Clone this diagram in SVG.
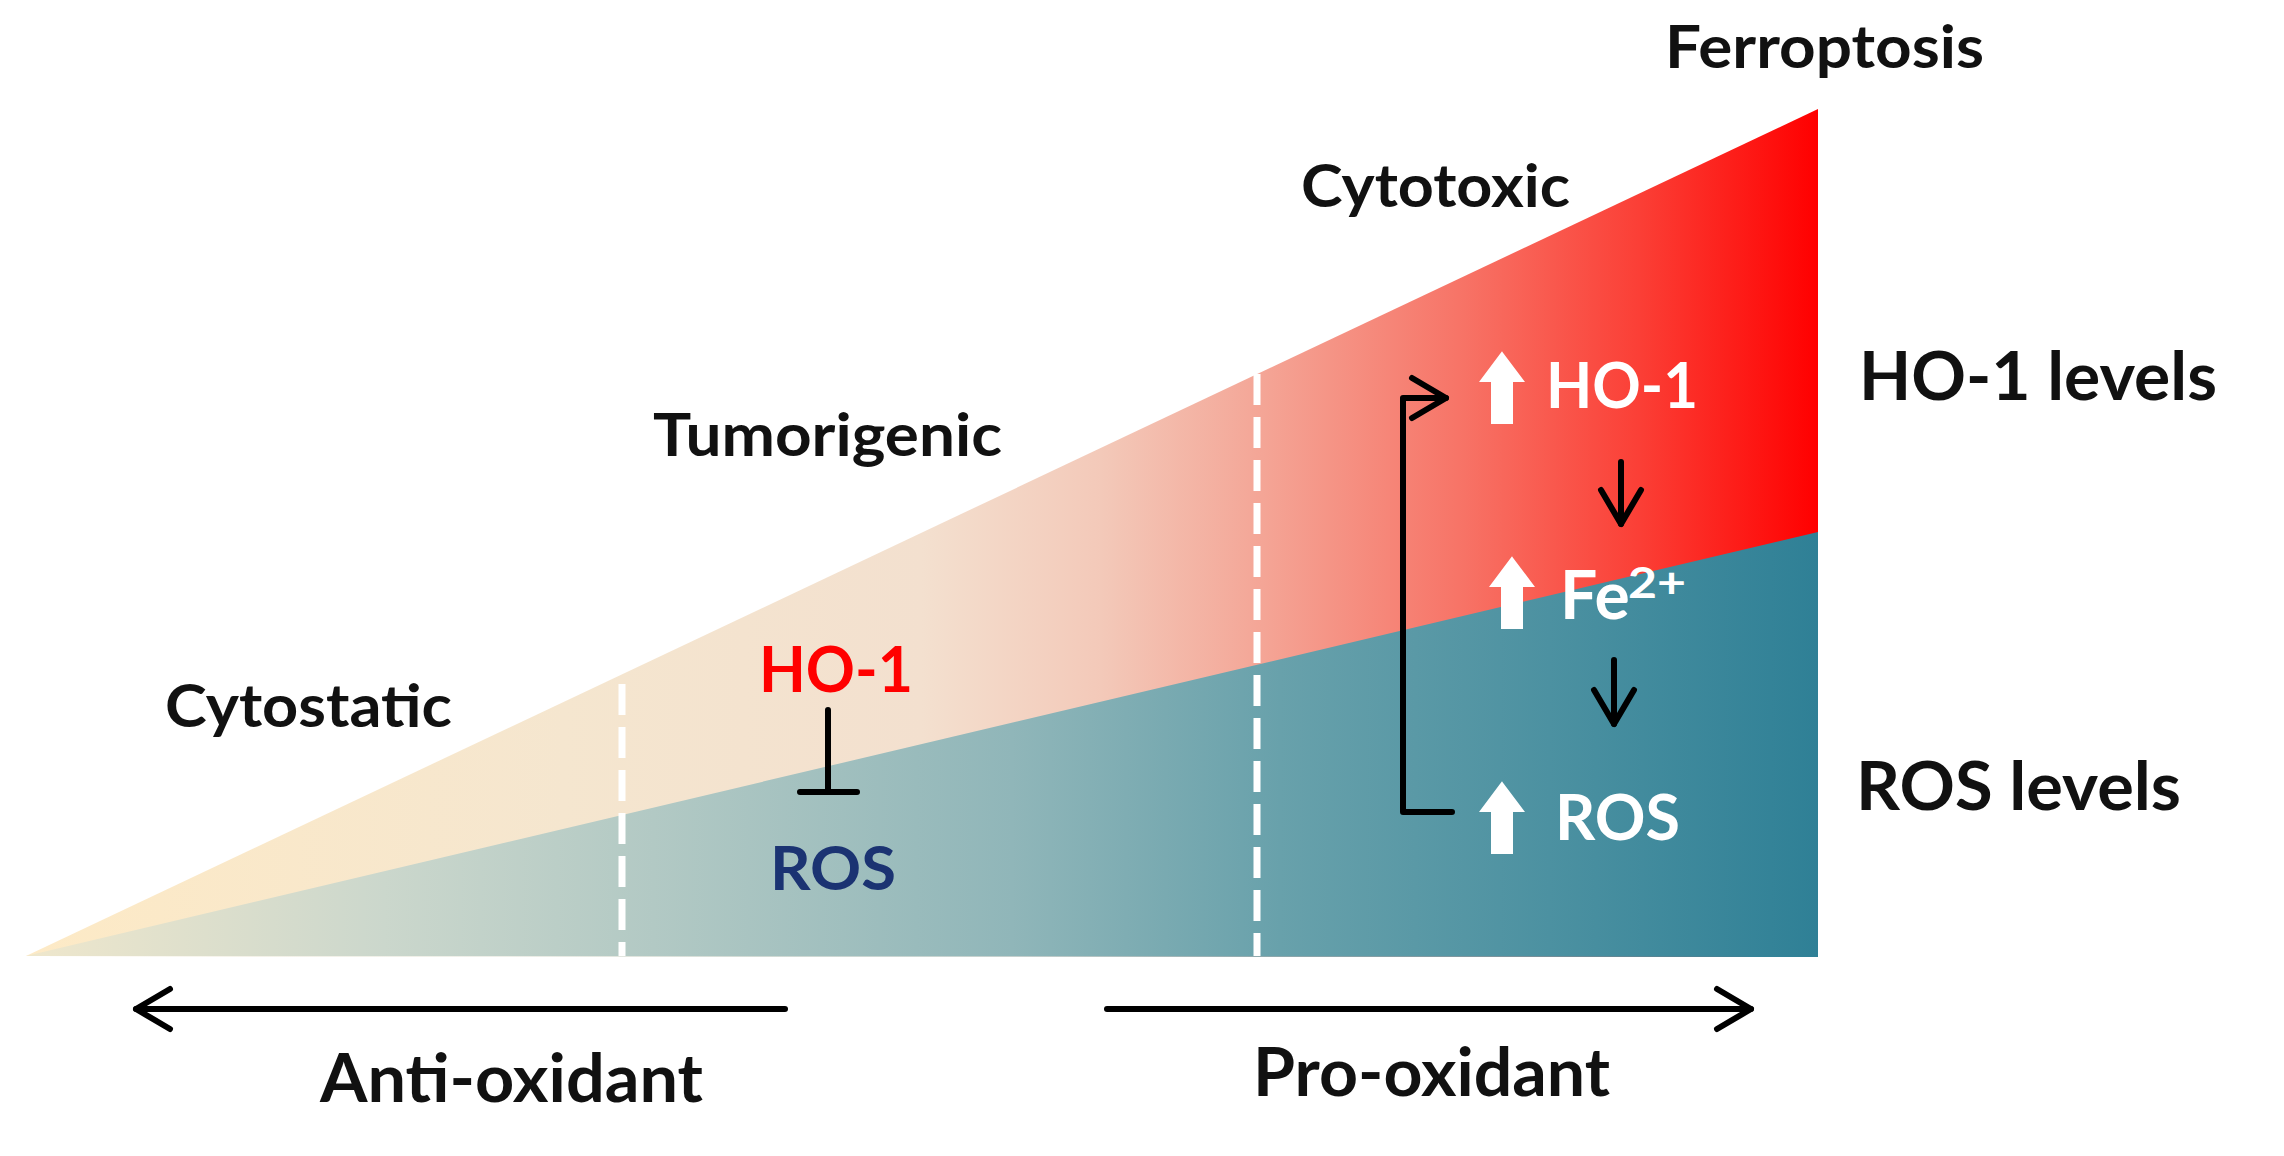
<svg xmlns="http://www.w3.org/2000/svg" width="2284" height="1156" viewBox="0 0 2284 1156">
<style>
  .lbl { font-family: Lato, "Open Sans", "Liberation Sans", sans-serif; font-weight: 700; fill: #111111; }
  .wht { font-family: Lato, "Open Sans", "Liberation Sans", sans-serif; font-weight: 700; fill: #ffffff; }
  .ln { stroke: #000000; stroke-width: 6; fill: none; stroke-linecap: round; stroke-linejoin: round; }
  .dash { stroke: #ffffff; stroke-width: 7; stroke-dasharray: 31 12; fill: none; }
  .uparr { fill: #ffffff; stroke: #ffffff; stroke-width: 2; stroke-linejoin: miter; }
</style>
<defs>
  <linearGradient id="warm" gradientUnits="userSpaceOnUse" x1="26" y1="0" x2="1818" y2="0">
    <stop offset="0" stop-color="#fdeac6"/>
    <stop offset="0.3" stop-color="#f5e6cf"/>
    <stop offset="0.5" stop-color="#f3e0cf"/>
    <stop offset="0.6" stop-color="#f3c9b9"/>
    <stop offset="0.69" stop-color="#f4a596"/>
    <stop offset="0.8" stop-color="#f77467"/>
    <stop offset="0.9" stop-color="#fb3f36"/>
    <stop offset="1" stop-color="#ff0000"/>
  </linearGradient>
  <linearGradient id="teal" gradientUnits="userSpaceOnUse" x1="26" y1="0" x2="1818" y2="0">
    <stop offset="0" stop-color="#efe7cc"/>
    <stop offset="0.2" stop-color="#cbd7cc"/>
    <stop offset="0.35" stop-color="#b2c9c4"/>
    <stop offset="0.55" stop-color="#90b6b9"/>
    <stop offset="0.7" stop-color="#68a1ab"/>
    <stop offset="0.85" stop-color="#4c91a1"/>
    <stop offset="1" stop-color="#2f8096"/>
  </linearGradient>
  <marker id="chev" markerUnits="userSpaceOnUse" markerWidth="44" markerHeight="48" viewBox="0 0 44 48" refX="38" refY="24" orient="auto">
    <path d="M4,4 L38,24 L4,44" fill="none" stroke="#000000" stroke-width="6" stroke-linecap="round" stroke-linejoin="round"/>
  </marker>
</defs>

<g id="wedge">
  <polygon points="26,956 1818,109 1818,957" fill="url(#warm)"/>
  <polygon points="26,956 1818,532 1818,957" fill="url(#teal)"/>
  <line class="dash" x1="622" y1="684" x2="622" y2="956"/>
  <line class="dash" x1="1257" y1="374" x2="1257" y2="956"/>
</g>

<g id="stage-cytostatic"><text class="lbl" x="165" y="727" font-size="60" textLength="287" lengthAdjust="spacingAndGlyphs">Cytostatic</text></g>
<g id="stage-tumorigenic"><text class="lbl" x="653" y="456" font-size="60" textLength="349" lengthAdjust="spacingAndGlyphs">Tumorigenic</text></g>
<g id="stage-cytotoxic"><text class="lbl" x="1301" y="207" font-size="60" textLength="269" lengthAdjust="spacingAndGlyphs">Cytotoxic</text></g>
<g id="stage-ferroptosis"><text class="lbl" x="1665" y="68" font-size="60" textLength="319" lengthAdjust="spacingAndGlyphs">Ferroptosis</text></g>
<g id="label-ho1-levels"><text class="lbl" x="1859" y="400" font-size="66" textLength="358" lengthAdjust="spacingAndGlyphs">HO-1 levels</text></g>
<g id="label-ros-levels"><text class="lbl" x="1856" y="810" font-size="66" textLength="325" lengthAdjust="spacingAndGlyphs">ROS levels</text></g>
<g id="label-antioxidant"><text class="lbl" x="320" y="1102" font-size="66" textLength="383" lengthAdjust="spacingAndGlyphs">Anti-oxidant</text></g>
<g id="label-prooxidant"><text class="lbl" x="1253" y="1096" font-size="66" textLength="357" lengthAdjust="spacingAndGlyphs">Pro-oxidant</text></g>

<g id="node-ho1-red"><text x="759" y="692" font-size="63" font-family="Lato, 'Open Sans', 'Liberation Sans', sans-serif" font-weight="700" fill="#ff0000" textLength="154" lengthAdjust="spacingAndGlyphs">HO-1</text></g>
<g id="node-ros-blue"><text x="770" y="890" font-size="62" font-family="Lato, 'Open Sans', 'Liberation Sans', sans-serif" font-weight="700" fill="#1b3372" textLength="126" lengthAdjust="spacingAndGlyphs">ROS</text></g>

<g id="node-ho1-up">
  <path class="uparr" d="M1502,353 L1523,381 L1512,381 L1512,423 L1492,423 L1492,381 L1481,381 Z"/>
  <text class="wht" x="1546" y="408" font-size="64" textLength="152" lengthAdjust="spacingAndGlyphs">HO-1</text>
</g>
<g id="node-fe-up">
  <path class="uparr" d="M1512,558 L1533,586 L1522,586 L1522,628 L1502,628 L1502,586 L1491,586 Z"/>
  <text class="wht" x="1560" y="619" font-size="66">Fe</text>
  <text class="wht" x="1628" y="598" font-size="42" textLength="58" lengthAdjust="spacingAndGlyphs">2+</text>
</g>
<g id="node-ros-up">
  <path class="uparr" d="M1502,783 L1523,811 L1512,811 L1512,853 L1492,853 L1492,811 L1481,811 Z"/>
  <text class="wht" x="1555" y="840" font-size="64" textLength="125" lengthAdjust="spacingAndGlyphs">ROS</text>
</g>

<g id="connectors">
  <path class="ln" d="M828,710 L828,792 M800,792 L857,792"/>
  <path class="ln" d="M1452,812 L1403,812 L1403,398 L1446,398" stroke-width="5" marker-end="url(#chev)"/>
  <line class="ln" x1="1621" y1="462" x2="1621" y2="524" stroke-width="5" marker-end="url(#chev)"/>
  <line class="ln" x1="1614" y1="660" x2="1614" y2="724" stroke-width="5" marker-end="url(#chev)"/>
  <line class="ln" x1="785" y1="1009" x2="136" y2="1009" marker-end="url(#chev)"/>
  <line class="ln" x1="1107" y1="1009" x2="1751" y2="1009" marker-end="url(#chev)"/>
</g>
</svg>
